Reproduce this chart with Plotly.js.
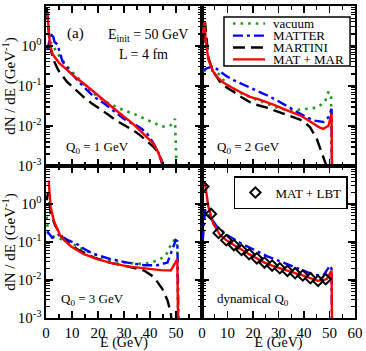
<!DOCTYPE html>
<html>
<head>
<meta charset="utf-8">
<script src="https://cdn.plot.ly/plotly-3.0.1.min.js"></script>
<style>
  body { margin: 0; background: #fff; }
  #myPlot { width: 366px; height: 351px; }
</style>
</head>
<body>
<div id="myPlot"></div>
<script>
// values (dN/dE in 1/GeV), E in GeV

// (top left) Q0 = 1 GeV
var q1VacE = [1.5, 2.5, 4, 6, 8, 10, 13, 15.6, 18, 20.8, 24, 27, 30, 33.6, 36, 38.7, 41, 43.8, 46, 48, 49.6, 50, 50.3];
var q1Vac  = [1.26, 1.12, 0.708, 0.468, 0.316, 0.229, 0.138, 0.0933, 0.0676, 0.049, 0.0372, 0.0302, 0.0245, 0.0204, 0.0174, 0.0145, 0.012, 0.0102, 0.0095, 0.0105, 0.0151, 0.004, 0.0005];
var q1MatE = [0.5, 1.2, 2.4, 3.3, 4.4, 6.3, 9, 12, 15, 18.5, 22, 25, 28, 30, 33, 35, 37, 39, 41.5, 43.5, 44.7, 45.2];
var q1Mat  = [0.79, 1.26, 2.14, 1.26, 1.10, 0.417, 0.24, 0.141, 0.089, 0.0537, 0.038, 0.0269, 0.0191, 0.0151, 0.0117, 0.0102, 0.0083, 0.0063, 0.00355, 0.002, 0.0011, 0.0005];
var q1MarE = [0.3, 0.8, 1.5, 2.8, 4.7, 8, 11, 14.4, 17.5, 20.8, 24, 27, 30, 33.6, 36, 38.7, 41, 42.6, 44, 44.6, 45.2];
var q1Mar  = [8.9, 3.16, 1.0, 0.457, 0.251, 0.129, 0.0832, 0.0537, 0.0372, 0.0269, 0.0191, 0.0138, 0.0107, 0.00776, 0.00603, 0.00427, 0.00316, 0.0024, 0.00166, 0.00135, 0.0005];
var q1MmE  = [0.5, 1, 1.5, 2.5, 3.5, 5, 8, 11, 14.4, 18, 21, 24, 27, 30, 33.6, 36, 38.7, 41, 42.6, 44, 45, 45.5];
var q1Mm   = [7.08, 2.0, 1.12, 0.63, 0.5, 0.38, 0.257, 0.17, 0.117, 0.0759, 0.0537, 0.0355, 0.0245, 0.017, 0.0112, 0.0079, 0.00525, 0.0038, 0.00263, 0.00166, 0.0011, 0.0005];

// (top right) Q0 = 2 GeV
var q2VacE = [0.5, 4.4, 7, 9.7, 12.3, 15.5, 18.8, 22, 25.4, 28, 30.6, 35.8, 41, 45, 48.2, 49.6, 50.6, 50.9];
var q2Vac  = [0.245, 0.245, 0.191, 0.107, 0.0794, 0.0646, 0.0537, 0.0437, 0.0363, 0.0309, 0.0269, 0.0245, 0.0269, 0.0288, 0.0398, 0.0724, 0.0537, 0.0005];
var q2MatE = [0.5, 2, 4.4, 7, 9.5, 12.3, 15.5, 18.8, 22, 25.4, 28.5, 31.9, 35, 38.4, 41, 43.7, 47.6, 49.6, 50.8, 51.0];
var q2Mat  = [0.245, 0.282, 0.309, 0.229, 0.178, 0.141, 0.115, 0.0933, 0.0741, 0.0589, 0.0468, 0.0363, 0.0275, 0.0204, 0.0166, 0.0138, 0.0126, 0.0166, 0.0269, 0.0005];
var q2MarE = [0.5, 1.2, 2.5, 4.4, 7, 9.5, 12.3, 15.5, 18.8, 22, 25.4, 28.5, 31.9, 35, 38.4, 40.5, 42.4, 45, 46.9, 48.6, 49.2];
var q2Mar  = [1.2, 3.89, 0.501, 0.229, 0.129, 0.0933, 0.0724, 0.0525, 0.0398, 0.0331, 0.0288, 0.0245, 0.0204, 0.0174, 0.0145, 0.012, 0.0093, 0.00479, 0.00219, 0.0011, 0.0005];
var q2MmE  = [0.3, 1.0, 1.5, 2.5, 4.4, 6, 8, 10, 12.3, 15, 18.8, 22, 25.4, 28.5, 31.9, 35, 38.4, 41, 43.7, 46, 47.6, 49.6, 50.8, 51.0];
var q2Mm   = [2.0, 3.98, 1.26, 0.457, 0.229, 0.166, 0.126, 0.105, 0.0871, 0.0708, 0.0537, 0.0468, 0.0398, 0.0331, 0.0269, 0.0224, 0.0186, 0.0148, 0.0112, 0.0093, 0.0085, 0.0102, 0.0204, 0.0005];

// (bottom left) Q0 = 3 GeV
var q3VacE = [0.3, 0.8, 4.4, 9.5, 14.6, 18.5, 24.9, 31.3, 37.7, 42.8, 46, 48.6, 49.9, 50.5, 50.8];
var q3Vac  = [0.468, 0.155, 0.129, 0.0955, 0.0617, 0.0479, 0.0324, 0.0282, 0.0263, 0.0324, 0.0427, 0.105, 0.115, 0.0776, 0.0005];
var q3MatE = [0.5, 2.4, 5, 8.2, 12, 14.6, 18.5, 24.9, 31.3, 37.7, 42.8, 46.7, 48.6, 49.9, 50.5, 51.0];
var q3Mat  = [0.191, 0.129, 0.155, 0.115, 0.0871, 0.0661, 0.0479, 0.0355, 0.0288, 0.0245, 0.0245, 0.0288, 0.0646, 0.112, 0.105, 0.0005];
var q3MarE = [0.3, 0.8, 1.8, 3.7, 6.9, 12, 18.5, 24.9, 31.3, 37.7, 41.5, 44.7, 46.7, 48, 48.5];
var q3Mar  = [1.26, 2.04, 0.562, 0.257, 0.115, 0.0646, 0.0389, 0.0282, 0.0229, 0.0178, 0.012, 0.00589, 0.00295, 0.00135, 0.0005];
var q3MmE  = [1.0, 1.8, 3.1, 5.6, 9.5, 14.6, 19.7, 24.9, 31.3, 37.7, 44.1, 48, 50.5, 50.8];
var q3Mm   = [4.17, 0.832, 0.347, 0.141, 0.0776, 0.0479, 0.0355, 0.0282, 0.0229, 0.0204, 0.0182, 0.0178, 0.0355, 0.0005];

// (bottom right) dynamical Q0
var dqMatE = [0.3, 1.2, 3.1, 5.8, 9.7, 14.9, 18.8, 25.4, 31.9, 38.4, 43.7, 47.6, 50.2, 50.8, 51.0];
var dqMat  = [0.115, 0.692, 0.468, 0.257, 0.155, 0.0955, 0.0708, 0.0427, 0.0288, 0.0195, 0.0138, 0.0132, 0.024, 0.02, 0.0005];
var dqMmE  = [0.6, 1.2, 2.5, 4.4, 7, 9.5, 12.5, 15.5, 18.5, 21.5, 24.5, 27.5, 30.5, 33.5, 36.5, 39.5, 42.5, 45.5, 48.9, 50.8, 51.0];
var dqMm   = [3.55, 3.39, 0.832, 0.309, 0.155, 0.112, 0.0832, 0.0617, 0.0479, 0.0372, 0.0288, 0.024, 0.0204, 0.0174, 0.0151, 0.0132, 0.0112, 0.0095, 0.0105, 0.0178, 0.0005];
var lbtE   = [0.5, 3.5, 6.5, 9.5, 12.5, 15.5, 18.5, 21.5, 24.5, 27.5, 30.5, 33.5, 36.5, 39.5, 42.5, 45.5, 48.5];
var lbt    = [2.88, 0.55, 0.174, 0.112, 0.0832, 0.0617, 0.0479, 0.0372, 0.0288, 0.024, 0.0204, 0.0174, 0.0151, 0.0132, 0.0112, 0.0095, 0.0105];

var names = ['vacuum', 'MATTER', 'MARTINI', 'MAT + MAR'];
var xTicks = [0, 10, 20, 30, 40, 50, 60];
var yTicks = [0.001, 0.01, 0.1, 1, 10];
var yTickText = ['10<sup>-3</sup>', '10<sup>-2</sup>', '10<sup>-1</sup>', '10<sup>0</sup>', '10<sup>1</sup>'];

var FONT = '"Liberation Serif", "DejaVu Serif", serif';
var lineStyle = [
  {color: '#1f9a1f', width: 2.6, dash: '2.6px,5px'},
  {color: '#0000ff', width: 2.4, dash: '10px,4px,3px,4px'},
  {color: '#000000', width: 2.4, dash: '12px,6px'},
  {color: '#ff0000', width: 2.4}
];

function curve(x, y, k, ax) {
  return {x: x, y: y, mode: 'lines', line: lineStyle[k], name: names[k],
          xaxis: 'x' + ax, yaxis: 'y' + ax, showlegend: false, hoverinfo: 'skip'};
}

var data = [
  curve(q1VacE, q1Vac, 0, ''), curve(q1MatE, q1Mat, 1, ''),
  curve(q1MarE, q1Mar, 2, ''), curve(q1MmE, q1Mm, 3, ''),
  curve(q2VacE, q2Vac, 0, '2'), curve(q2MatE, q2Mat, 1, '2'),
  curve(q2MarE, q2Mar, 2, '2'), curve(q2MmE, q2Mm, 3, '2'),
  curve(q3VacE, q3Vac, 0, '3'), curve(q3MatE, q3Mat, 1, '3'),
  curve(q3MarE, q3Mar, 2, '3'), curve(q3MmE, q3Mm, 3, '3'),
  curve(dqMatE, dqMat, 1, '4'), curve(dqMmE, dqMm, 3, '4'),
  {x: lbtE, y: lbt, mode: 'markers', name: 'MAT + LBT', xaxis: 'x4', yaxis: 'y4',
   legend: 'legend2', showlegend: true, hoverinfo: 'skip',
   marker: {symbol: 'diamond-open', size: 8, color: '#000', line: {width: 2, color: '#000'}}}
];

var minorY = [];
[0.001, 0.01, 0.1, 1].forEach(function (d) {
  for (var m = 2; m <= 9; m++) minorY.push(d * m);
});

function xAxis(domain, anchor, vals, labels, title) {
  return {
    domain: domain, anchor: anchor, range: [0, 60],
    tickmode: 'array', tickvals: vals, ticktext: labels, showticklabels: !!labels,
    ticks: 'inside', ticklen: 7, tickwidth: 1.5, tickcolor: '#000',
    showline: true, linecolor: '#000', linewidth: 1.6, mirror: 'ticks',
    showgrid: false, zeroline: false,
    minor: {tickmode: 'array', tickvals: [5, 15, 25, 35, 45, 55], ticks: 'inside', ticklen: 4, tickwidth: 1.2, tickcolor: '#000'},
    tickfont: {family: FONT, size: 15, color: '#000'},
    title: title ? {text: title, font: {family: FONT, size: 14, color: '#000'}, standoff: 0} : undefined
  };
}

function yAxis(domain, anchor, vals, labels, title) {
  return {
    domain: domain, anchor: anchor, type: 'log', range: [-3, 1],
    tickmode: 'array', tickvals: vals, ticktext: labels, showticklabels: !!labels,
    ticks: 'inside', ticklen: 7, tickwidth: 1.5, tickcolor: '#000',
    showline: true, linecolor: '#000', linewidth: 1.6, mirror: 'ticks',
    showgrid: false, zeroline: false,
    minor: {tickmode: 'array', tickvals: minorY, ticks: 'inside', ticklen: 4, tickwidth: 1.1, tickcolor: '#000'},
    tickfont: {family: FONT, size: 15, color: '#000'},
    title: title ? {text: title, font: {family: FONT, size: 15, color: '#000'}, standoff: 4} : undefined
  };
}

var yTitle = 'dN / dE (GeV<sup>-1</sup>)';

function note(text, x, y, size, anchor) {
  return {text: text, x: x, y: y, xref: 'paper', yref: 'paper', showarrow: false,
          xanchor: anchor || 'center', yanchor: 'middle', borderpad: 0,
          font: {family: FONT, size: size, color: '#000'}};
}

// key of the four models, drawn in the top-right panel
var keyX0 = 0.605, keyX1 = 0.709, keyText = 0.731;
var keyRows = [0.944, 0.905, 0.867, 0.829];
var shapes = [{type: 'rect', xref: 'paper', yref: 'paper', x0: 0.576, x1: 0.984, y0: 0.808, y1: 0.965,
               line: {color: '#000', width: 1.5}, fillcolor: '#fff', layer: 'above'}];
var keyNotes = [];
names.forEach(function (n, k) {
  shapes.push({type: 'line', xref: 'paper', yref: 'paper', x0: keyX0, x1: keyX1,
               y0: keyRows[k], y1: keyRows[k], line: lineStyle[k], layer: 'above'});
  keyNotes.push(note(n, keyText, keyRows[k], 13, 'left'));
});

var layout = {
  width: 366, height: 351,
  margin: {l: 46, r: 11, t: 6, b: 33},
  paper_bgcolor: '#fff', plot_bgcolor: '#fff',
  font: {family: FONT, color: '#000'},
  showlegend: true,
  xaxis:  xAxis([0, 0.505], 'y', xTicks, null, null),
  yaxis:  yAxis([0.487, 1], 'x', yTicks, yTickText, yTitle),
  xaxis2: xAxis([0.505, 1], 'y2', xTicks, null, null),
  yaxis2: yAxis([0.487, 1], 'x2', yTicks, null, null),
  xaxis3: xAxis([0, 0.505], 'y3', xTicks.slice(0, 6), ['0', '10', '20', '30', '40', '50'], 'E (GeV)'),
  yaxis3: yAxis([0, 0.487], 'x3', yTicks.slice(0, 4), yTickText.slice(0, 4), yTitle),
  xaxis4: xAxis([0.505, 1], 'y4', xTicks, ['0', '10', '20', '30', '40', '50', '60'], 'E (GeV)'),
  yaxis4: yAxis([0, 0.487], 'x4', yTicks, null, null),
  legend2: {x: 0.977, y: 0.455, xanchor: 'right', yanchor: 'top', bgcolor: '#fff',
            bordercolor: '#000', borderwidth: 1.5, itemwidth: 30,
            font: {family: FONT, size: 13, color: '#000'}},
  shapes: shapes,
  annotations: [
    note('(a)', 0.094, 0.913, 15),
    note('E<sub>init</sub> = 50 GeV', 0.33, 0.907, 14),
    note('L = 4 fm', 0.314, 0.846, 14),
    note('Q<sub>0</sub> = 1 GeV', 0.168, 0.548, 13),
    note('Q<sub>0</sub> = 2 GeV', 0.654, 0.548, 13),
    note('Q<sub>0</sub> = 3 GeV', 0.149, 0.058, 13),
    note('dynamical Q<sub>0</sub>', 0.67, 0.058, 13)
  ].concat(keyNotes)
};

Plotly.newPlot('myPlot', data, layout, {staticPlot: true, displayModeBar: false});
</script>
</body>
</html>
